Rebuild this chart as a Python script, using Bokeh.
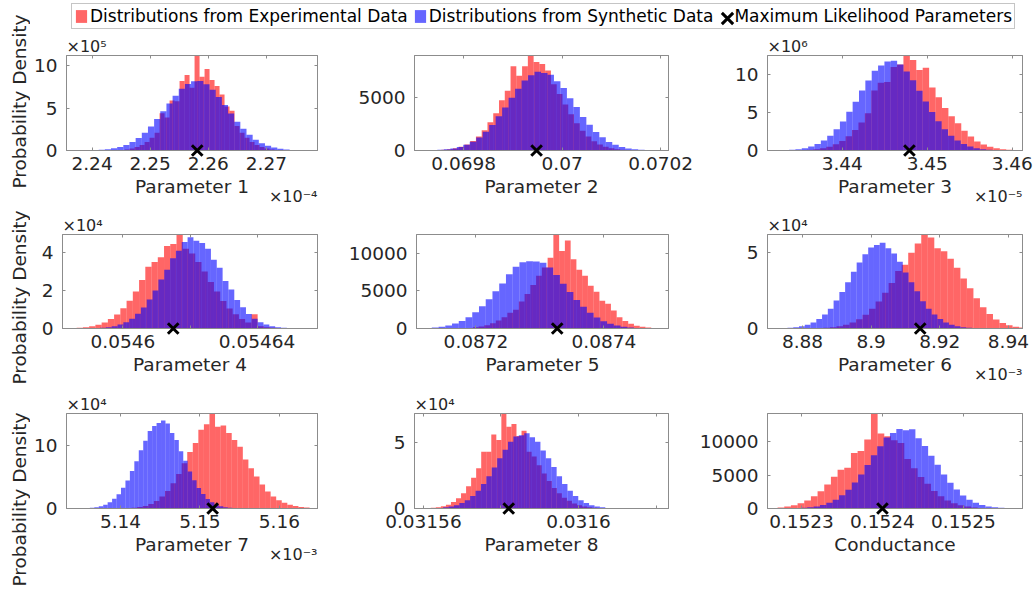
import math
from bokeh.plotting import figure
from bokeh.models import (Range1d, FixedTicker, LinearAxis, Label, Legend, LegendItem, Title,
                          ColumnDataSource, CustomJSTickFormatter)
from bokeh.layouts import column, row
from bokeh.embed import file_html
from bokeh.resources import INLINE

FONT = "DejaVu Sans"
TXT = "#262626"
FRAME = "#8c8c8c"
RED = "#ff0000"
BLUE = "#0000ff"

legend_labels = ["Distributions from Experimental Data",
                 "Distributions from Synthetic Data",
                 "Maximum Likelihood Parameters"]
y_title = "Probability Density"

# ---------------- Panel 1 ----------------
p1_name = "Parameter 1"
p1_xlim = [2.2356, 2.2788]
p1_xticks = [2.24, 2.25, 2.26, 2.27]
p1_xticklabels = ["2.24", "2.25", "2.26", "2.27"]
p1_yticks = [0, 5, 10]
p1_yticklabels = ["0", "5", "10"]
p1_xexp = "\u00d710\u207b\u2074"
p1_yexp = "\u00d710\u2075"
p1_mle = 2.2581
p1_blue_start, p1_blue_width = 2.23902, 0.00106
p1_blue = [0.02, 0.04, 0.08, 0.15, 0.26, 0.42, 0.66, 1.00, 1.48, 2.08, 2.82, 3.70, 4.62, 5.55, 6.45, 7.28, 7.85, 8.15,
           8.20, 7.80, 7.15, 6.30, 5.35, 4.35, 3.40, 2.55, 1.85, 1.28, 0.85, 0.55, 0.34, 0.20, 0.12, 0.06, 0.03, 0.015]
p1_red_start, p1_red_width = 2.24302, 0.00086
p1_red = [0.02, 0.04, 0.07, 0.13, 0.23, 0.40, 0.64, 1.00, 1.50, 2.10, 4.40, 3.90, 5.90, 5.80, 8.20, 8.90, 7.40, 11.20,
          8.70, 9.60, 8.30, 7.60, 6.60, 5.20, 4.70, 2.90, 2.10, 1.50, 0.99, 0.64, 0.40, 0.23, 0.13, 0.07, 0.04, 0.02]

# ---------------- Panel 2 ----------------
p2_name = "Parameter 2"
p2_xlim = [0.069700, 0.070216]
p2_xticks = [0.0698, 0.07, 0.0702]
p2_xticklabels = ["0.0698", "0.07", "0.0702"]
p2_yticks = [0, 5000]
p2_yticklabels = ["0", "5000"]
p2_xexp = None
p2_yexp = None
p2_mle = 0.069948
p2_blue_start, p2_blue_width = 0.06972012, 0.00001316
p2_blue = [15, 30, 60, 110, 195, 320, 530, 820, 1210, 1760, 2390, 3200, 4020, 4950, 5780, 6550, 7050, 7380,
           7250, 7100, 6480, 5850, 4900, 4080, 3150, 2420, 1730, 1240, 800, 530, 320, 190, 110, 60, 30, 15]
p2_red_start, p2_red_width = 0.06973104, 0.00001172
p2_red = [16, 32, 64, 120, 208, 352, 568, 880, 1320, 1900, 2650, 3500, 4700, 5600, 7900, 7000, 7900, 8900,
          8300, 8100, 7500, 6200, 5300, 4300, 3400, 2550, 1850, 1300, 860, 560, 350, 205, 118, 63, 31, 16]

# ---------------- Panel 3 ----------------
p3_name = "Parameter 3"
p3_xlim = [3.4312, 3.4612]
p3_xticks = [3.44, 3.45, 3.46]
p3_xticklabels = ["3.44", "3.45", "3.46"]
p3_yticks = [0, 5, 10]
p3_yticklabels = ["0", "5", "10"]
p3_xexp = "\u00d710\u207b\u2075"
p3_yexp = "\u00d710\u2076"
p3_mle = 3.4479
p3_blue_start, p3_blue_width = 3.43224, 0.000748
p3_blue = [0.024, 0.05, 0.09, 0.18, 0.31, 0.52, 0.84, 1.30, 1.95, 2.80, 3.80, 5.10, 6.40, 7.90, 9.20, 10.50, 11.20, 11.70,
           11.80, 11.30, 10.40, 9.25, 7.85, 6.45, 5.05, 3.85, 2.78, 1.95, 1.30, 0.84, 0.52, 0.31, 0.18, 0.09, 0.05, 0.024]
p3_red_start, p3_red_width = 3.43434, 0.000756
p3_red = [0.023, 0.046, 0.09, 0.17, 0.30, 0.50, 0.81, 1.25, 1.88, 2.69, 3.70, 4.90, 7.90, 8.90, 9.00, 11.00, 11.30, 12.50,
          11.90, 10.60, 10.90, 8.30, 7.00, 5.60, 4.50, 3.60, 2.60, 1.85, 1.20, 0.80, 0.50, 0.30, 0.17, 0.09, 0.05, 0.02]

# ---------------- Panel 4 ----------------
p4_name = "Parameter 4"
p4_xlim = [0.054582, 0.054658]
p4_xticks = [0.0546, 0.05462, 0.05464]
p4_xticklabels = ["0.0546", "", "0.05464"]
p4_yticks = [0, 2, 4]
p4_yticklabels = ["0", "2", "4"]
p4_xexp = None
p4_yexp = "\u00d710\u2074"
p4_mle = 0.054615
p4_blue_start, p4_blue_width = 0.0545897, 0.00000174
p4_blue = [0.01, 0.02, 0.04, 0.07, 0.12, 0.21, 0.33, 0.52, 0.78, 1.10, 1.53, 2.00, 2.58, 3.10, 3.70, 4.10, 4.55, 4.80,
           4.62, 4.50, 4.20, 3.62, 3.20, 2.50, 2.05, 1.50, 1.12, 0.76, 0.52, 0.33, 0.21, 0.12, 0.07, 0.04, 0.02, 0.01]
p4_red_start, p4_red_width = 0.0545825, 0.00000186
p4_red = [0.01, 0.02, 0.04, 0.07, 0.12, 0.20, 0.32, 0.50, 0.74, 1.06, 1.46, 1.95, 2.55, 3.25, 3.50, 3.75, 4.35, 4.45,
          4.95, 4.20, 3.95, 3.50, 3.00, 2.45, 1.95, 1.45, 1.05, 0.75, 0.50, 0.32, 0.75, 0.12, 0.07, 0.04, 0.02, 0.01]

# ---------------- Panel 5 ----------------
p5_name = "Parameter 5"
p5_xlim = [0.087107, 0.087501]
p5_xticks = [0.0872, 0.0874]
p5_xticklabels = ["0.0872", "0.0874"]
p5_yticks = [0, 5000, 10000]
p5_yticklabels = ["0", "5000", "10000"]
p5_xexp = None
p5_yexp = None
p5_mle = 0.087327
p5_blue_start, p5_blue_width = 0.0870993, 0.00001054
p5_blue = [18, 36, 72, 135, 240, 400, 650, 1000, 1500, 2150, 2950, 3900, 4950, 6000, 7200, 8200, 8800, 8950,
           8900, 8750, 8100, 7100, 5950, 4850, 3800, 2900, 2100, 1450, 980, 630, 390, 230, 135, 70, 36, 18]
p5_red_start, p5_red_width = 0.087168, 0.000009
p5_red = [20, 40, 80, 150, 260, 440, 700, 1050, 1500, 2100, 2500, 3600, 4600, 5800, 7000, 8100, 9400, 12500,
          10300, 11700, 9200, 7800, 7000, 5700, 4900, 3700, 3300, 2400, 1500, 1000, 620, 380, 220, 120, 70, 30]

# ---------------- Panel 6 ----------------
p6_name = "Parameter 6"
p6_xlim = [8.8698, 8.9441]
p6_xticks = [8.88, 8.9, 8.92, 8.94]
p6_xticklabels = ["8.88", "8.9", "8.92", "8.94"]
p6_yticks = [0, 5]
p6_yticklabels = ["0", "5"]
p6_xexp = "\u00d710\u207b\u00b3"
p6_yexp = "\u00d710\u2074"
p6_mle = 8.9143
p6_blue_start, p6_blue_width = 8.87226, 0.00168
p6_blue = [0.011, 0.022, 0.045, 0.085, 0.15, 0.25, 0.40, 0.62, 0.93, 1.30, 1.85, 2.40, 3.05, 3.75, 4.35, 4.90, 5.35, 5.50,
           5.66, 5.30, 4.95, 4.40, 3.70, 3.05, 2.45, 1.80, 1.30, 0.92, 0.62, 0.40, 0.25, 0.15, 0.085, 0.045, 0.022, 0.011]
p6_red_start, p6_red_width = 8.8823, 0.0019
p6_red = [0.011, 0.022, 0.044, 0.083, 0.143, 0.242, 0.391, 0.605, 0.908, 1.298, 1.788, 2.365, 3.00, 3.80, 4.20, 5.00, 5.60, 6.20,
          6.00, 5.30, 5.10, 4.60, 4.00, 3.30, 2.65, 2.00, 1.40, 0.95, 0.60, 0.36, 0.21, 0.12, 0.06, 0.03, 0.015, 0.008]

# ---------------- Panel 7 ----------------
p7_name = "Parameter 7"
p7_xlim = [5.1332, 5.1648]
p7_xticks = [5.14, 5.15, 5.16]
p7_xticklabels = ["5.14", "5.15", "5.16"]
p7_yticks = [0, 10]
p7_yticklabels = ["0", "10"]
p7_xexp = "\u00d710\u207b\u00b3"
p7_yexp = "\u00d710\u2074"
p7_mle = 5.1516
p7_blue_start, p7_blue_width = 5.13502, 0.00056
p7_blue = [0.03, 0.055, 0.11, 0.21, 0.36, 0.61, 0.98, 1.55, 2.25, 3.30, 4.45, 5.95, 7.50, 9.25, 10.75, 12.30, 13.10, 13.60,
           14.00, 13.50, 12.00, 10.90, 9.10, 7.60, 5.90, 4.50, 3.25, 2.30, 1.50, 0.98, 0.60, 0.36, 0.21, 0.11, 0.055, 0.028]
p7_red_start, p7_red_width = 5.1400, 0.0007
p7_red = [0.03, 0.06, 0.12, 0.22, 0.41, 0.72, 1.19, 1.89, 2.80, 4.00, 5.50, 7.20, 9.00, 10.40, 12.50, 13.40, 15.10, 13.00,
          13.20, 12.00, 10.90, 9.80, 7.80, 6.40, 5.10, 3.80, 2.70, 1.90, 1.30, 0.90, 0.60, 0.38, 0.24, 0.15, 0.09, 0.05]

# ---------------- Panel 8 ----------------
p8_name = "Parameter 8"
p8_xlim = [0.0315577, 0.0316232]
p8_xticks = [0.03156, 0.03158, 0.0316, 0.03162]
p8_xticklabels = ["0.03156", "", "0.0316", ""]
p8_yticks = [0, 5]
p8_yticklabels = ["0", "5"]
p8_xexp = None
p8_yexp = "\u00d710\u2074"
p8_mle = 0.031582
p8_blue_start, p8_blue_width = 0.0315609, 0.000001394
p8_blue = [0.011, 0.023, 0.046, 0.086, 0.15, 0.25, 0.41, 0.63, 0.94, 1.35, 1.85, 2.45, 3.10, 3.80, 4.45, 5.05, 5.45, 5.55,
           5.70, 5.40, 5.05, 4.40, 3.80, 3.15, 2.45, 1.85, 1.35, 0.94, 0.63, 0.41, 0.25, 0.15, 0.086, 0.046, 0.023, 0.011]
p8_red_start, p8_red_width = 0.031558, 0.0000013
p8_red = [0.006, 0.012, 0.025, 0.049, 0.095, 0.17, 0.29, 0.49, 0.77, 1.16, 1.69, 2.33, 3.05, 4.30, 4.30, 5.60, 5.20, 7.20,
          6.20, 6.40, 5.50, 5.90, 4.30, 3.94, 3.27, 2.66, 2.08, 1.56, 1.16, 0.82, 0.58, 0.38, 0.25, 0.16, 0.095, 0.057, 0.033]

# ---------------- Panel 9 ----------------
p9_name = "Conductance"
p9_xlim = [0.152258, 0.152573]
p9_xticks = [0.1523, 0.1524, 0.1525]
p9_xticklabels = ["0.1523", "0.1524", "0.1525"]
p9_yticks = [0, 5000, 10000]
p9_yticklabels = ["0", "5000", "10000"]
p9_xexp = None
p9_yexp = None
p9_mle = 0.1524
p9_blue_start, p9_blue_width = 0.1522835, 0.00000786
p9_blue = [24, 48, 95, 180, 310, 520, 850, 1300, 1970, 2800, 3880, 5100, 6500, 7950, 9300, 10600, 11300, 11900,
           11700, 11850, 10500, 9350, 7900, 6550, 5100, 3850, 2850, 1950, 1300, 850, 520, 310, 180, 95, 48, 24]
p9_red_start, p9_red_width = 0.1522457, 0.00000824
p9_red = [22, 44, 88, 165, 286, 484, 781, 1210, 1815, 2596, 3575, 4730, 5800, 6100, 8300, 8600, 10300, 14200,
          11200, 10800, 10200, 9800, 7400, 6000, 4700, 3700, 2600, 1815, 1210, 781, 484, 286, 165, 88, 44, 22]

panels = []
for i in range(1, 10):
    g = globals()
    panels.append(dict(
        name=g[f"p{i}_name"], xlim=g[f"p{i}_xlim"], xticks=g[f"p{i}_xticks"], xlabels=g[f"p{i}_xticklabels"],
        yticks=g[f"p{i}_yticks"], ylabels=g[f"p{i}_yticklabels"], xexp=g[f"p{i}_xexp"], yexp=g[f"p{i}_yexp"],
        mle=g[f"p{i}_mle"],
        red=(g[f"p{i}_red_start"], g[f"p{i}_red_width"], g[f"p{i}_red"]),
        blue=(g[f"p{i}_blue_start"], g[f"p{i}_blue_width"], g[f"p{i}_blue"]),
    ))

# layout (pixels)
STRIP_W = 30
LEG_H = 34
COL_W = [345 - STRIP_W, 348, 342]
COL_L = [62 - STRIP_W, 69, 74]
COL_R = [28, 25, 13]
ROW_H = [179, 179, 200]
ROW_T = [21, 21, 21]
ROW_B = [63, 64, 84]
TOTAL_H = LEG_H + sum(ROW_H)
YTITLE_CENTER = [101, 297, 499]   # page y of each row's y-axis title centre


def label_formatter(tvals, tlabs):
    return CustomJSTickFormatter(args=dict(tvals=tvals, tlabs=tlabs), code="""
        let best = 0, bd = Infinity;
        for (let i = 0; i < tvals.length; i++) {
            const dd = Math.abs(tvals[i] - tick);
            if (dd < bd) { bd = dd; best = i; }
        }
        return tlabs[best];
    """)


def style_axis(ax):
    ax.major_tick_in = 3
    ax.major_tick_out = 0
    ax.minor_tick_line_color = None
    ax.axis_line_color = FRAME
    ax.major_tick_line_color = FRAME
    ax.major_label_text_font = FONT
    ax.major_label_text_font_size = "18.5px"
    ax.major_label_text_color = TXT
    ax.axis_label_text_font = FONT
    ax.axis_label_text_font_size = "18.5px"
    ax.axis_label_text_font_style = "normal"
    ax.axis_label_text_color = TXT


def make_panel(d, r, c):
    ymax = max(max(d["red"][2]), max(d["blue"][2]))
    p = figure(width=COL_W[c], height=ROW_H[r], toolbar_location=None, output_backend="svg",
               x_range=Range1d(d["xlim"][0], d["xlim"][1]), y_range=Range1d(0, ymax),
               min_border_left=COL_L[c], min_border_right=COL_R[c],
               min_border_top=ROW_T[r], min_border_bottom=ROW_B[r])
    p.xgrid.visible = False
    p.ygrid.visible = False
    p.outline_line_color = FRAME
    p.background_fill_color = "white"

    for (start, width, h), color in ((d["red"], RED), (d["blue"], BLUE)):
        left = [start + width * k for k in range(len(h))]
        right = [start + width * (k + 1) for k in range(len(h))]
        src = ColumnDataSource(dict(left=left, right=right, top=h, bottom=[0] * len(h)))
        p.quad(left="left", right="right", top="top", bottom="bottom", source=src,
               fill_color=color, fill_alpha=0.6, line_color=None)
    p.scatter(x=[d["mle"]], y=[0], marker="x", size=15, line_width=3, line_color="black", level="overlay")

    xa = p.xaxis[0]
    ya = p.yaxis[0]
    xa.ticker = FixedTicker(ticks=d["xticks"])
    xa.formatter = label_formatter(d["xticks"], d["xlabels"])
    ya.ticker = FixedTicker(ticks=d["yticks"])
    ya.formatter = label_formatter(d["yticks"], d["ylabels"])
    style_axis(xa)
    style_axis(ya)
    xa.major_label_standoff = 6
    ya.major_label_standoff = 9
    xa.axis_label = d["name"]
    xa.axis_label_standoff = 3

    for side, tv in (("above", d["xticks"]), ("right", d["yticks"])):
        ax = LinearAxis(ticker=FixedTicker(ticks=tv), formatter=CustomJSTickFormatter(code="return ''"))
        style_axis(ax)
        ax.major_label_text_font_size = "1px"
        ax.major_label_standoff = 0
        p.add_layout(ax, side)

    if d["yexp"]:
        p.add_layout(Title(text=d["yexp"], align="left", text_font=FONT, text_font_size="16px",
                           text_font_style="normal", text_color=TXT, standoff=0, offset=0), "above")
    if d["xexp"]:
        p.add_layout(Title(text=d["xexp"], align="right", vertical_align="top", text_font=FONT,
                           text_font_size="16px", text_font_style="normal", text_color=TXT,
                           standoff=-26, offset=0), "below")
    return p


# left strip holding the shared y-axis titles
strip = figure(width=STRIP_W, height=TOTAL_H, toolbar_location=None, output_backend="svg", min_border=0,
               x_range=Range1d(0, STRIP_W), y_range=Range1d(0, TOTAL_H), x_axis_type=None, y_axis_type=None)
strip.grid.visible = False
strip.outline_line_color = None
for r in range(3):
    strip.add_layout(Label(x=19, y=TOTAL_H - YTITLE_CENTER[r], text=y_title, angle=math.pi / 2,
                           text_align="center", text_baseline="middle", text_font=FONT,
                           text_font_size="18.5px", text_color=TXT))

# legend strip
lf = figure(width=1035 - STRIP_W, height=LEG_H, toolbar_location=None, output_backend="svg", min_border=0,
            x_range=Range1d(0, 1), y_range=Range1d(0, 1), x_axis_type=None, y_axis_type=None)
lf.grid.visible = False
lf.outline_line_color = None
nan = float("nan")
r_red = lf.quad(left=[nan], right=[nan], top=[nan], bottom=[nan], fill_color=RED, fill_alpha=0.6, line_color=None)
r_blue = lf.quad(left=[nan], right=[nan], top=[nan], bottom=[nan], fill_color=BLUE, fill_alpha=0.6, line_color=None)
r_x_hidden = lf.scatter(x=[nan], y=[nan], marker="x", size=13, line_width=3, line_color="black", line_alpha=0)
r_x = lf.scatter(x=[nan], y=[nan], marker="x", size=13, line_width=3, line_color="black")
leg = Legend(items=[LegendItem(label=legend_labels[0], renderers=[r_red]),
                    LegendItem(label=legend_labels[1], renderers=[r_blue]),
                    LegendItem(label=legend_labels[2], renderers=[r_x_hidden])],
             orientation="horizontal", location=(71 - STRIP_W, 5), glyph_width=14, glyph_height=16,
             label_standoff=2, spacing=5, padding=2, margin=0, label_height=19,
             label_text_font=FONT, label_text_font_size="17px", label_text_color="black",
             border_line_color=FRAME, border_line_width=1, background_fill_color="white",
             background_fill_alpha=1)
lf.add_layout(leg)
# large cross for the third entry (legend glyph markers scale with the glyph box)
leg_x = Legend(items=[LegendItem(label=" ", renderers=[r_x])],
               orientation="horizontal", location=(727 - 20 - STRIP_W, 16.5 - 20), glyph_width=40, glyph_height=40,
               label_standoff=0, padding=0, margin=0, label_width=0, label_height=0,
               label_text_font_size="1px", border_line_color=None, background_fill_alpha=0)
lf.add_layout(leg_x)

rows = []
for r in range(3):
    figs = [make_panel(panels[3 * r + c], r, c) for c in range(3)]
    rows.append(row(*figs))

layout = row(strip, column(lf, *rows))
open("out.html", "w").write(file_html(layout, INLINE))
